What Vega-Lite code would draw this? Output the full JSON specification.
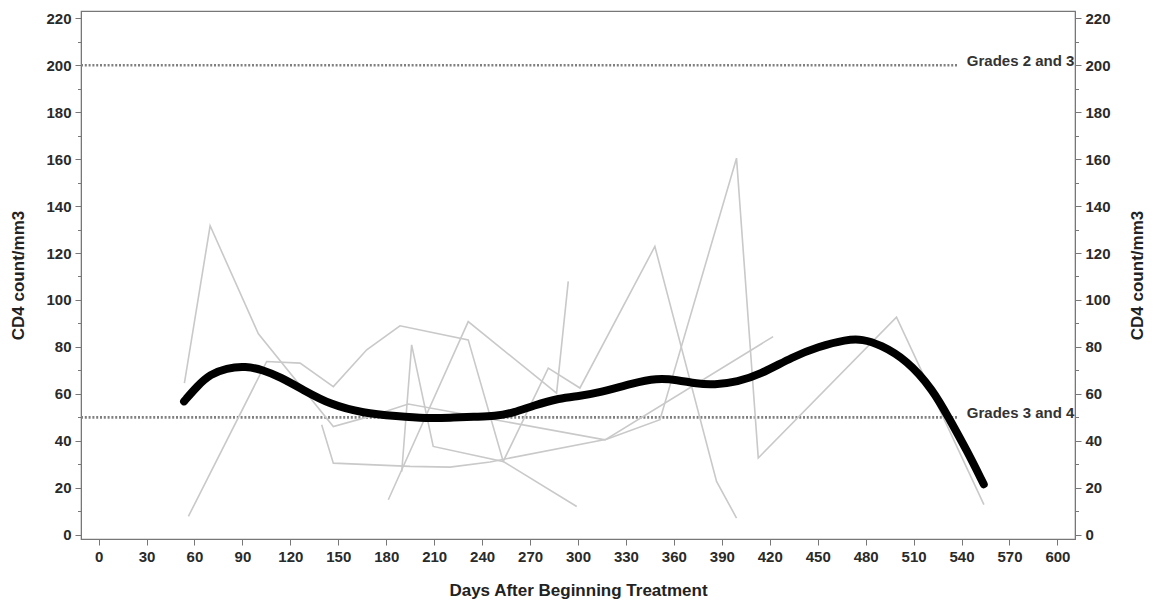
{
  "$schema": "https://vega.github.io/schema/vega-lite/v6.json",
  "autosize": {"type": "none"},
  "width": 994,
  "height": 528,
  "padding": {"left": 81, "top": 11, "right": 82, "bottom": 67},
  "background": "white",
  "datasets": {
    "patients": [
      {"p": 1, "day": 53.7, "cd4": 64.6}, {"p": 1, "day": 69.8, "cd4": 131.6}, {"p": 1, "day": 100.0, "cd4": 85.6}, {"p": 1, "day": 146.9, "cd4": 46.1}, {"p": 1, "day": 169.8, "cd4": 50.4}, {"p": 1, "day": 193.8, "cd4": 55.7}, {"p": 1, "day": 316.9, "cd4": 40.4}, {"p": 1, "day": 422.1, "cd4": 84.4},
      {"p": 2, "day": 139.6, "cd4": 46.8}, {"p": 2, "day": 146.9, "cd4": 30.5}, {"p": 2, "day": 194.9, "cd4": 29.1}, {"p": 2, "day": 219.9, "cd4": 28.8}, {"p": 2, "day": 245.0, "cd4": 31.0}, {"p": 2, "day": 317.9, "cd4": 40.7}, {"p": 2, "day": 351.3, "cd4": 49.0}, {"p": 2, "day": 399.2, "cd4": 160.4}, {"p": 2, "day": 412.8, "cd4": 32.7}, {"p": 2, "day": 499.3, "cd4": 92.7}, {"p": 2, "day": 554.0, "cd4": 12.8},
      {"p": 3, "day": 56.2, "cd4": 7.8}, {"p": 3, "day": 105.2, "cd4": 73.8}, {"p": 3, "day": 126.1, "cd4": 73.1}, {"p": 3, "day": 146.9, "cd4": 63.1}, {"p": 3, "day": 167.8, "cd4": 78.8}, {"p": 3, "day": 188.6, "cd4": 89.0}, {"p": 3, "day": 231.3, "cd4": 83.0}, {"p": 3, "day": 253.2, "cd4": 31.2}, {"p": 3, "day": 299.2, "cd4": 12.0},
      {"p": 4, "day": 181.3, "cd4": 14.9}, {"p": 4, "day": 231.3, "cd4": 90.8}, {"p": 4, "day": 286.6, "cd4": 60.3}, {"p": 4, "day": 293.9, "cd4": 107.9},
      {"p": 5, "day": 189.7, "cd4": 26.8}, {"p": 5, "day": 195.9, "cd4": 80.9}, {"p": 5, "day": 209.4, "cd4": 37.6}, {"p": 5, "day": 253.2, "cd4": 31.2}, {"p": 5, "day": 281.4, "cd4": 71.0}, {"p": 5, "day": 301.2, "cd4": 62.5}, {"p": 5, "day": 348.1, "cd4": 122.8}, {"p": 5, "day": 386.7, "cd4": 22.7}, {"p": 5, "day": 399.2, "cd4": 7.1}
    ],
    "smooth": [
      {"day": 53.5, "cd4": 56.8}, {"day": 62, "cd4": 63.5}, {"day": 69.8, "cd4": 68.3}, {"day": 80, "cd4": 71.0}, {"day": 92, "cd4": 71.8}, {"day": 103, "cd4": 70.2}, {"day": 113.5, "cd4": 67.2}, {"day": 128, "cd4": 61.7}, {"day": 145, "cd4": 55.4}, {"day": 165.7, "cd4": 51.8}, {"day": 186.5, "cd4": 50.5}, {"day": 205.3, "cd4": 49.5}, {"day": 220, "cd4": 49.8}, {"day": 235, "cd4": 50.3}, {"day": 248, "cd4": 50.4}, {"day": 260, "cd4": 52.0}, {"day": 272, "cd4": 55.0}, {"day": 288.7, "cd4": 58.2}, {"day": 300, "cd4": 59.0}, {"day": 313.7, "cd4": 60.5}, {"day": 334.4, "cd4": 64.6}, {"day": 349.2, "cd4": 66.7}, {"day": 362, "cd4": 66.0}, {"day": 374.2, "cd4": 64.3}, {"day": 385, "cd4": 63.8}, {"day": 400, "cd4": 65.2}, {"day": 413.6, "cd4": 68.1}, {"day": 434.7, "cd4": 75.9}, {"day": 450, "cd4": 80.0}, {"day": 468.1, "cd4": 83.2}, {"day": 478, "cd4": 83.3}, {"day": 489, "cd4": 81.0}, {"day": 505.6, "cd4": 74.5}, {"day": 522.2, "cd4": 61.7}, {"day": 532.6, "cd4": 49.0}, {"day": 543.1, "cd4": 36.2}, {"day": 553.9, "cd4": 21.5}
    ],
    "refs": [
      {"day": -11, "dayEnd": 537.7, "cd4": 200, "label": "Grades 2 and 3", "labelDay": 543.3},
      {"day": -11, "dayEnd": 537.7, "cd4": 50, "label": "Grades 3 and 4", "labelDay": 543.3}
    ]
  },
  "layer": [
    {
      "encoding": {
        "x": {
          "field": "day", "type": "quantitative",
          "scale": {"domain": [-11, 611], "nice": false, "zero": false},
          "axis": {
            "title": "Days After Beginning Treatment",
            "values": [0,15,30,45,60,75,90,105,120,135,150,165,180,195,210,225,240,255,270,285,300,315,330,345,360,375,390,405,420,435,450,465,480,495,510,525,540,555,570,585,600],
            "labelExpr": "datum.value % 30 === 0 ? datum.label : ''",
            "tickSize": {"condition": {"test": "datum.value % 30 === 0", "value": 6}, "value": 3.5},
            "labelOverlap": false, "labelFlush": false, "labelBound": false,
            "labelPadding": 4, "titlePadding": 18
          }
        },
        "y": {
          "field": "cd4", "type": "quantitative",
          "scale": {"domain": [-1.83, 223.1], "nice": false, "zero": false},
          "axis": {
            "title": "CD4 count/mm3", "orient": "left",
            "values": [0,10,20,30,40,50,60,70,80,90,100,110,120,130,140,150,160,170,180,190,200,210,220],
            "labelExpr": "datum.value % 20 === 0 ? datum.label : ''",
            "tickSize": {"condition": {"test": "datum.value % 20 === 0", "value": 6}, "value": 3.5},
            "labelOverlap": false, "labelFlush": false, "labelBound": false,
            "labelPadding": 4, "titlePadding": 18
          }
        }
      },
      "layer": [
        {
          "data": {"name": "refs"},
          "mark": {"type": "rule", "color": "#808080", "strokeWidth": 2.6, "strokeDash": [2, 1.8]},
          "encoding": {"x2": {"field": "dayEnd"}}
        },
        {
          "data": {"name": "patients"},
          "mark": {"type": "line", "color": "#c9c9c9", "strokeWidth": 1.6},
          "encoding": {"detail": {"field": "p", "type": "nominal"}}
        },
        {
          "data": {"name": "smooth"},
          "mark": {"type": "line", "color": "#000000", "strokeWidth": 8, "strokeCap": "round", "interpolate": "basis"},
          "encoding": {}
        },
        {
          "data": {"name": "refs"},
          "mark": {"type": "text", "align": "left", "baseline": "middle", "dy": -4, "font": "Liberation Sans", "fontWeight": "bold", "fontSize": 15, "color": "#333333"},
          "encoding": {"x": {"field": "labelDay", "type": "quantitative"}, "text": {"field": "label"}}
        }
      ]
    },
    {
      "data": {"name": "refs"},
      "mark": {"type": "point", "opacity": 0},
      "encoding": {
        "x": {"field": "day", "type": "quantitative"},
        "y": {
          "field": "cd4", "type": "quantitative",
          "scale": {"domain": [-1.83, 223.1], "nice": false, "zero": false},
          "axis": {
            "title": "CD4 count/mm3", "orient": "right", "titleAngle": 270,
            "values": [0,10,20,30,40,50,60,70,80,90,100,110,120,130,140,150,160,170,180,190,200,210,220],
            "labelExpr": "datum.value % 20 === 0 ? datum.label : ''",
            "tickSize": {"condition": {"test": "datum.value % 20 === 0", "value": 6}, "value": 3.5},
            "labelOverlap": false, "labelFlush": false, "labelBound": false,
            "labelPadding": 4, "titlePadding": 36
          }
        }
      }
    }
  ],
  "resolve": {"scale": {"y": "independent"}},
  "config": {
    "view": {"stroke": "#777777", "strokeWidth": 1.2},
    "axis": {
      "grid": false,
      "domainColor": "#777777", "tickColor": "#777777",
      "labelFont": "Liberation Sans", "labelFontWeight": "bold", "labelFontSize": 15, "labelColor": "#2a2a2a",
      "titleFont": "Liberation Sans", "titleFontWeight": "bold", "titleFontSize": 17, "titleColor": "#222222"
    }
  }
}
